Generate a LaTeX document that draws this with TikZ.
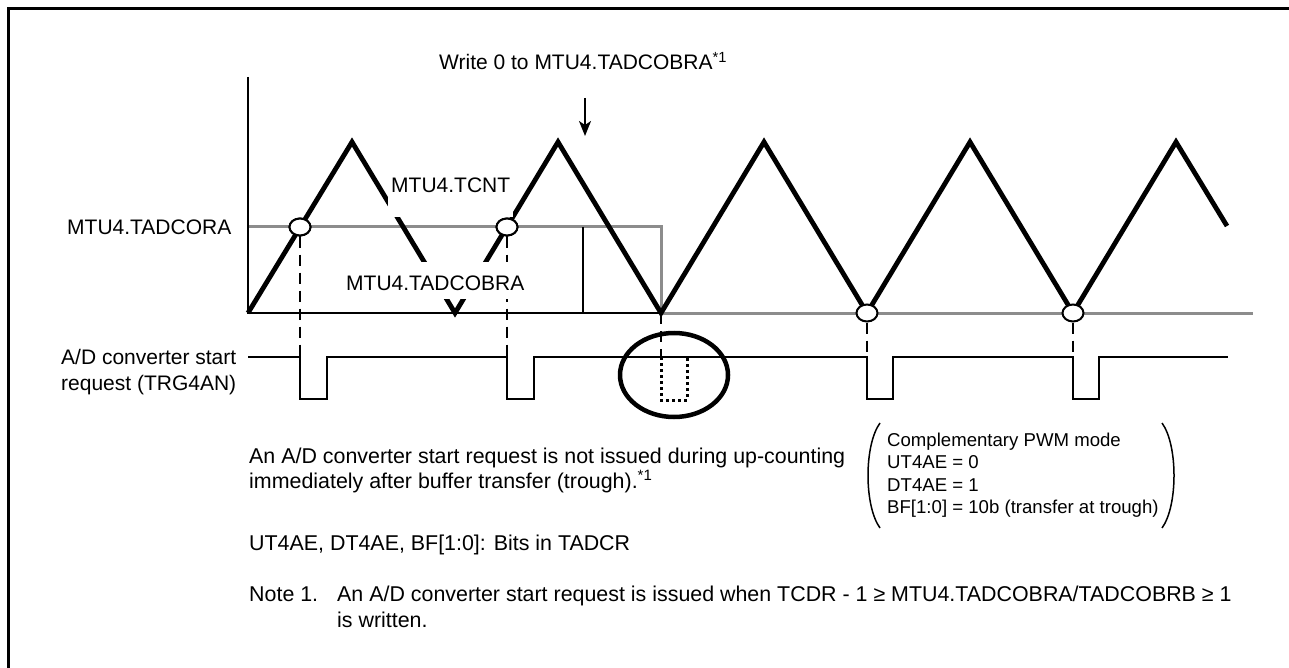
\documentclass[tikz,border=0pt]{standalone}
\usepackage{fontspec}
\setmainfont{Liberation Sans}
\usetikzlibrary{arrows.meta,shapes.geometric}
\definecolor{gline}{RGB}{140,140,140}
\begin{document}
\begin{tikzpicture}[x=1pt,y=-1pt,
  wave/.style={line width=4.8pt, line join=miter},
  sig/.style={line width=2.5pt, line join=miter},
  gl/.style={draw=gline, line width=3pt},
  dsh/.style={line width=2.5pt, dash pattern=on 11pt off 7pt},
  dotl/.style={line width=3pt, dash pattern=on 3pt off 3pt},
  cpt/.style={ellipse, draw, fill=white, line width=2pt, minimum width=21pt, minimum height=17pt, inner sep=0pt},
  lbl/.style={font=\fontsize{21}{25}\selectfont, anchor=base west, inner sep=0pt},
  blbl/.style={font=\fontsize{21.4}{25}\selectfont, anchor=base west, inner sep=0pt},
  sml/.style={font=\fontsize{18.6}{22.5}\selectfont, anchor=base west, inner sep=0pt},
  wlbl/.style={font=\fontsize{21}{25}\selectfont, anchor=base west, fill=white, inner xsep=3pt, inner ysep=4pt}
]
\useasboundingbox (0,0) rectangle (1289,668);
% frame
\draw[line width=3pt] (8.5,668) -- (8.5,8.5) -- (1289,8.5);

% gray levels
\draw[gl] (248,227) -- (661,227) -- (661,313) -- (1253,313);
% axes
\draw[line width=2pt] (248,77) -- (248,313) -- (661,313);
\draw[line width=1.5pt] (583,227) -- (583,313);

% triangle wave (TCNT)
\draw[wave] (248,313) -- (352,142) -- (455,313) -- (558,142) -- (661,313)
  -- (764,142) -- (867,313) -- (970,142) -- (1073,313) -- (1176,142) -- (1227,226);

% compare points
\node[cpt] (c1) at (300,227) {};
\node[cpt] (c2) at (507,227) {};
\coordinate (c3) at (661,313);
\node[cpt] (c4) at (867,313) {};
\node[cpt] (c5) at (1073,313) {};

% trigger signal
\draw[sig] (248,357) -- (300,357) coordinate (p1) -- (300,399) -- (327,399) -- (327,357)
  -- (507,357) coordinate (p2) -- (507,399) -- (534,399) -- (534,357)
  -- (867,357) coordinate (p4) -- (867,399) -- (893,399) -- (893,357)
  -- (1073,357) coordinate (p5) -- (1073,399) -- (1099,399) -- (1099,357) -- (1228,357);
\coordinate (p3) at (661,357);
\draw[dotl] (661,357) -- (661,400) -- (687,400) -- (687,357);

% dashed projections
\draw[dsh] (c1.south) -- (p1);
\draw[dsh] (c2.south) -- (p2);
\draw[dsh] (c3) -- (p3);
\draw[dsh] (c4.south) -- (p4);
\draw[dsh] (c5.south) -- (p5);

% labels with white background
\node[wlbl, text height=17pt, text depth=20pt] (tcnt) at (388,193) {MTU4.TCNT};
\node[wlbl, text height=24pt, text depth=5pt] (tadcobra) at (343,290) {MTU4.TADCOBRA};
% redraw compare circles on top
\node[cpt] at (c1) {};
\node[cpt] at (c2) {};

% ellipse highlight
\draw[line width=4.5pt] (674,375) ellipse [x radius=54, y radius=42];

% write arrow
\node[lbl] (write) at (439,70) {Write 0 to MTU4.TADCOBRA\textsuperscript{*1}};
\coordinate (arrS) at (585,98);
\coordinate (arrE) at (585,136);
\draw[line width=2pt, -{Stealth[length=15pt,width=12pt,inset=4pt]}] (arrS) -- (arrE);

% left labels
\node[lbl] (tadcora) at (67,234) {MTU4.TADCORA};
\node[lbl] (adc1) at (61,364) {A/D converter start};
\node[lbl] (adc2) at (61,390) {request (TRG4AN)};

% bottom text
\node[blbl] (n1) at (249,463) {An A/D converter start request is not issued during up-counting};
\node[blbl] (n2) at (249,488) {immediately after buffer transfer (trough).\textsuperscript{*1}};
\node[blbl] (n3) at (249,550) {UT4AE, DT4AE, BF[1:0]: Bits in TADCR};
\node[blbl] (n4) at (249,601) {Note 1.};
\node[blbl] (n5) at (337,601) {An A/D converter start request is issued when TCDR - 1 ≥ MTU4.TADCOBRA/TADCOBRB ≥ 1};
\node[blbl] (n6) at (337,627) {is written.};

% mode box
\draw[line width=1.5pt] (880,423) .. controls (864,445) and (864,506) .. (880,528);
\draw[line width=1.5pt] (1162,423) .. controls (1178,445) and (1178,506) .. (1162,528);
\node[sml] (m1) at (887,446) {Complementary PWM mode};
\node[sml] (m2) at (887,468.5) {UT4AE = 0};
\node[sml] (m3) at (887,491) {DT4AE = 1};
\node[sml] (m4) at (887,513.5) {BF[1:0] = 10b (transfer at trough)};
\end{tikzpicture}
\end{document}
